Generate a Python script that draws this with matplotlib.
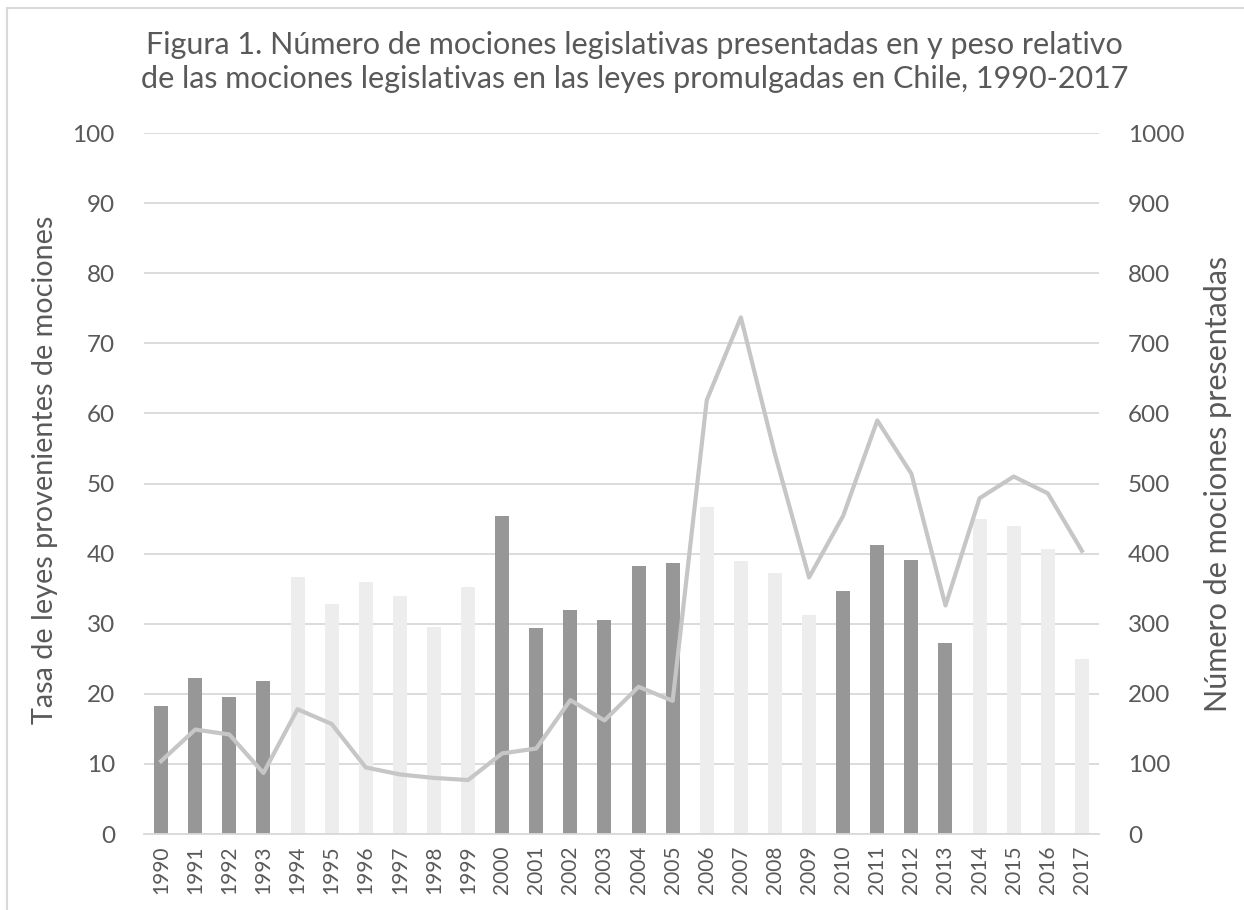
import matplotlib
matplotlib.use('Agg')
import matplotlib.pyplot as plt
import matplotlib.lines as lines

plt.rcParams['font.family'] = ['Lato', 'DejaVu Sans']

years = [str(y) for y in range(1990, 2018)]

# tasa de leyes provenientes de mociones (eje izquierdo)
tasa = [18.2, 22.2, 19.6, 21.8, 36.6, 32.8, 35.9, 33.9, 29.6, 35.2,
        45.3, 29.4, 32.0, 30.6, 38.3, 38.7, 46.6, 39.0, 37.3, 31.3,
        34.7, 41.3, 39.1, 27.3, 45.0, 43.9, 40.7, 24.9]

# numero de mociones presentadas (eje derecho)
mociones = [104, 149, 142, 87, 178, 157, 95, 85, 80, 77,
            115, 122, 191, 162, 210, 190, 619, 737, 542, 366,
            454, 590, 514, 326, 479, 510, 486, 404]

# periodo de gobierno: 1 = oscuro, 0 = claro
periodo = [1]*4 + [0]*6 + [1]*6 + [0]*4 + [1]*4 + [0]*4

dark = '#979797'
light = '#EDEDED'
txt = '#595959'
colors = [dark if p else light for p in periodo]

fig = plt.figure(figsize=(12.44, 9.10), dpi=100)
ax = fig.add_axes([0.1158, 0.0835, 0.7676, 0.7703])
ax2 = ax.twinx()

x = list(range(len(years)))
ax.bar(x, tasa, width=0.41, color=colors, zorder=2)
ax2.plot(x, mociones, color='#C6C6C6', lw=3, solid_joinstyle='round', zorder=3)

ax.set_ylim(0, 100)
ax2.set_ylim(0, 1000)
ax.set_xlim(-0.5, len(years) - 0.5)
ax.set_yticks(range(0, 101, 10))
ax2.set_yticks(range(0, 1001, 100))
ax.yaxis.grid(True, color='#D9D9D9', lw=1.3)
ax.set_axisbelow(True)

ax.set_xticks(x)
ax.set_xticklabels(years, rotation=90, fontsize=15, color=txt)
ax.tick_params(axis='x', length=0, pad=8)
ax.tick_params(axis='y', length=0, pad=21, labelsize=17.5, labelcolor=txt)
ax2.tick_params(axis='y', length=0, pad=21, labelsize=17.5, labelcolor=txt)

for a in (ax, ax2):
    for s in a.spines.values():
        s.set_visible(False)
ax.spines['bottom'].set_visible(True)
ax.spines['bottom'].set_color('#D9D9D9')
ax.spines['bottom'].set_linewidth(1.3)

ax.set_ylabel('Tasa de leyes provenientes de mociones', fontsize=20.7, color=txt)
ax.yaxis.set_label_coords(-0.09, 0.52)
ax2.set_ylabel('Número de mociones presentadas', fontsize=22, color=txt, labelpad=14)

fig.text(0.51, 0.932, 'Figura 1. Número de mociones legislativas presentadas en y peso relativo\n'
         'de las mociones legislativas en las leyes promulgadas en Chile, 1990-2017',
         ha='center', va='center', fontsize=22, color=txt, linespacing=1.28)

# borde del area del grafico
fig.add_artist(lines.Line2D([7/1244, 7/1244], [0, 1 - 8/910], color='#D9D9D9', lw=1.5))
fig.add_artist(lines.Line2D([7/1244, 1], [1 - 8/910, 1 - 8/910], color='#D9D9D9', lw=1.5))

plt.savefig('out.png', dpi=100)
